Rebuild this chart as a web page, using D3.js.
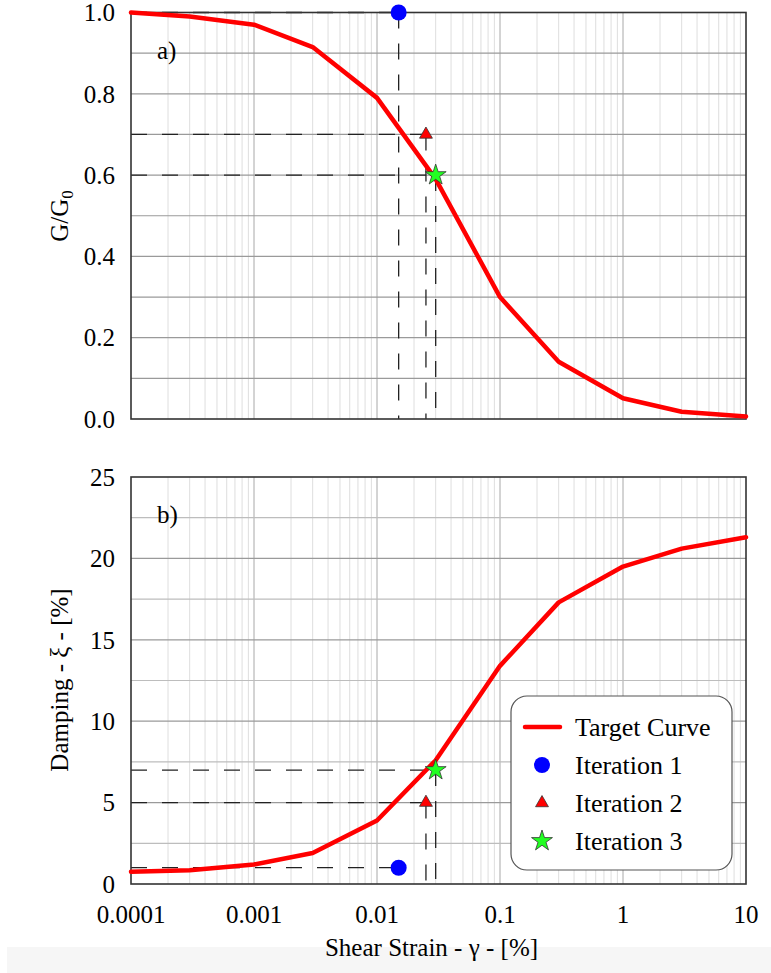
<!DOCTYPE html>
<html>
<head>
<meta charset="utf-8">
<script src="https://cdn.jsdelivr.net/npm/d3@7"></script>
<style>
  body { margin: 0; background: #fff; }
  svg { display: block; }
  svg text { font-family: "Liberation Serif", "DejaVu Serif", serif; }
</style>
</head>
<body>
<svg id="chart" width="771" height="973"></svg>
<script>
// strain points of the target curves [%]
const strain = [0.0001, 0.0003, 0.001, 0.003, 0.01, 0.03, 0.1, 0.3, 1, 3, 10];
const modulusRatio = [1.0, 0.99, 0.97, 0.915, 0.79, 0.59, 0.30, 0.141, 0.051, 0.018, 0.006];
const damping = [0.75, 0.85, 1.2, 1.9, 3.9, 7.6, 13.4, 17.3, 19.5, 20.6, 21.3];

// iterations (strain, G/G0, damping)
const iterNames = ["Iteration 1", "Iteration 2", "Iteration 3"];
const iterStrain = [0.015, 0.025, 0.03];
const iterModulus = [1.0, 0.7, 0.6];
const iterDamping = [1.0, 5.0, 7.0];

const xTicks = [0.0001, 0.001, 0.01, 0.1, 1, 10];
const xTickLabels = ["0.0001", "0.001", "0.01", "0.1", "1", "10"];
const modTicks = [0, 0.2, 0.4, 0.6, 0.8, 1.0];
const dampTicks = [0, 5, 10, 15, 20, 25];

const svg = d3.select("#chart");
const left = 131, right = 746;

const x = d3.scaleLog().domain([0.0001, 10]).range([left, right]);

// light strip at the bottom of the original screenshot
svg.append("rect").attr("x", 7).attr("y", 947).attr("width", 764).attr("height", 26).attr("fill", "#f6f6f6");

const markerStyles = [
    { type: d3.symbolCircle, size: 201, fill: "#0000ff", stroke: "none" },
    { type: d3.symbolTriangle, size: 72, fill: "#ff0000", stroke: "#333" },
    { type: d3.symbolStar, size: 136, fill: "#22ff22", stroke: "#333" }
];

function drawPanel(cfg) {
    const y = d3.scaleLinear().domain(cfg.domain).range([cfg.bottom, cfg.top]);
    const g = svg.append("g");

    // vertical grid: minor lines inside each decade, darker at decades
    const minor = [];
    for (let e = -4; e < 1; e++) {
        for (let m = 2; m <= 9; m++) minor.push(m * Math.pow(10, e));
    }
    g.selectAll(".vminor").data(minor).enter().append("line")
        .attr("x1", d => x(d)).attr("x2", d => x(d))
        .attr("y1", cfg.top).attr("y2", cfg.bottom)
        .attr("stroke", "#dedede").attr("stroke-width", 1);
    g.selectAll(".vmajor").data(xTicks.slice(1, -1)).enter().append("line")
        .attr("x1", d => x(d)).attr("x2", d => x(d))
        .attr("y1", cfg.top).attr("y2", cfg.bottom)
        .attr("stroke", "#a8a8a8").attr("stroke-width", 1);

    // horizontal grid
    g.selectAll(".hgrid").data(cfg.grid).enter().append("line")
        .attr("x1", left).attr("x2", right)
        .attr("y1", d => y(d)).attr("y2", d => y(d))
        .attr("stroke", d => cfg.gridColor(d)).attr("stroke-width", 1.2);

    // dashed guide lines to the iteration points
    const dash = "16,15";
    cfg.guides.forEach(gd => {
        g.append("line")
            .attr("x1", left).attr("x2", x(gd.s))
            .attr("y1", y(gd.v)).attr("y2", y(gd.v))
            .attr("stroke", "#222").attr("stroke-width", 1.3).attr("stroke-dasharray", dash);
        if (gd.vertical) {
            g.append("line")
                .attr("x1", x(gd.s)).attr("x2", x(gd.s))
                .attr("y1", y(gd.v)).attr("y2", cfg.bottom)
                .attr("stroke", "#222").attr("stroke-width", 1.3).attr("stroke-dasharray", dash);
        }
    });

    // frame
    g.append("rect")
        .attr("x", left).attr("y", cfg.top)
        .attr("width", right - left).attr("height", cfg.bottom - cfg.top)
        .attr("fill", "none").attr("stroke", "#333").attr("stroke-width", 1.6);

    // target curve
    const line = d3.line().x(d => x(d[0])).y(d => y(d[1]));
    g.append("path")
        .datum(strain.map((s, i) => [s, cfg.values[i]]))
        .attr("d", line)
        .attr("fill", "none").attr("stroke", "#ff0000")
        .attr("stroke-width", 4.5).attr("stroke-linejoin", "round").attr("stroke-linecap", "round");

    // iteration markers
    iterStrain.forEach((s, i) => {
        const st = markerStyles[i];
        g.append("path")
            .attr("d", d3.symbol(st.type, st.size)())
            .attr("transform", `translate(${x(s)},${y(cfg.iter[i])})`)
            .attr("fill", st.fill).attr("stroke", st.stroke).attr("stroke-width", 0.8);
    });

    // y tick labels
    g.selectAll(".ytick").data(cfg.ticks).enter().append("text")
        .attr("x", 115).attr("y", d => y(d))
        .attr("dy", "0.35em")
        .attr("text-anchor", "end")
        .attr("font-size", 25)
        .text(cfg.tickFormat);

    // panel letter
    g.append("text").attr("x", 157).attr("y", cfg.top + 46)
        .attr("font-size", 25).text(cfg.letter);

    return y;
}

drawPanel({
    top: 12.5, bottom: 419, domain: [0, 1],
    grid: d3.range(1, 10).map(d => d / 10),
    gridColor: () => "#9a9a9a",
    ticks: modTicks, tickFormat: d => d.toFixed(1),
    values: modulusRatio, iter: iterModulus, letter: "a)",
    guides: [
        { s: iterStrain[0], v: iterModulus[0], vertical: true },
        { s: iterStrain[1], v: iterModulus[1], vertical: true },
        { s: iterStrain[2], v: iterModulus[2], vertical: true }
    ]
});

drawPanel({
    top: 477, bottom: 884, domain: [0, 25],
    grid: d3.range(2.5, 25, 2.5),
    gridColor: d => (d % 5 === 0 ? "#9a9a9a" : "#bdbdbd"),
    ticks: dampTicks, tickFormat: d => d,
    values: damping, iter: iterDamping, letter: "b)",
    guides: [
        { s: iterStrain[0], v: iterDamping[0], vertical: false },
        { s: iterStrain[1], v: iterDamping[1], vertical: true },
        { s: iterStrain[2], v: iterDamping[2], vertical: true }
    ]
});

// x tick labels (bottom panel only)
svg.selectAll(".xtick").data(xTicks).enter().append("text")
    .attr("x", d => x(d)).attr("y", 923)
    .attr("text-anchor", "middle").attr("font-size", 25)
    .text((d, i) => xTickLabels[i]);

svg.append("text").attr("x", (left + right) / 2 - 7).attr("y", 956)
    .attr("text-anchor", "middle").attr("font-size", 25)
    .text("Shear Strain - γ - [%]");

// y axis titles
const yt1 = svg.append("text")
    .attr("transform", `translate(68,216) rotate(-90)`)
    .attr("text-anchor", "middle").attr("font-size", 25);
yt1.append("tspan").text("G/G");
yt1.append("tspan").attr("font-size", 17).attr("dy", 5).text("0");

svg.append("text")
    .attr("transform", `translate(68,680) rotate(-90)`)
    .attr("text-anchor", "middle").attr("font-size", 25)
    .text("Damping - ξ - [%]");

// legend
const lg = svg.append("g");
lg.append("rect").attr("x", 511).attr("y", 696).attr("width", 221).attr("height", 174)
    .attr("rx", 16).attr("fill", "#fff").attr("stroke", "#555").attr("stroke-width", 1.2);
lg.append("line").attr("x1", 525).attr("x2", 560).attr("y1", 727).attr("y2", 727)
    .attr("stroke", "#ff0000").attr("stroke-width", 4.5).attr("stroke-linecap", "round");
lg.append("text").attr("x", 575).attr("y", 736).attr("font-size", 26).text("Target Curve");
iterNames.forEach((name, i) => {
    const cy = 765 + i * 38;
    const st = markerStyles[i];
    lg.append("path")
        .attr("d", d3.symbol(st.type, st.size)())
        .attr("transform", `translate(542,${cy})`)
        .attr("fill", st.fill).attr("stroke", st.stroke).attr("stroke-width", 0.8);
    lg.append("text").attr("x", 575).attr("y", cy + 9).attr("font-size", 26).text(name);
});
</script>
</body>
</html>
